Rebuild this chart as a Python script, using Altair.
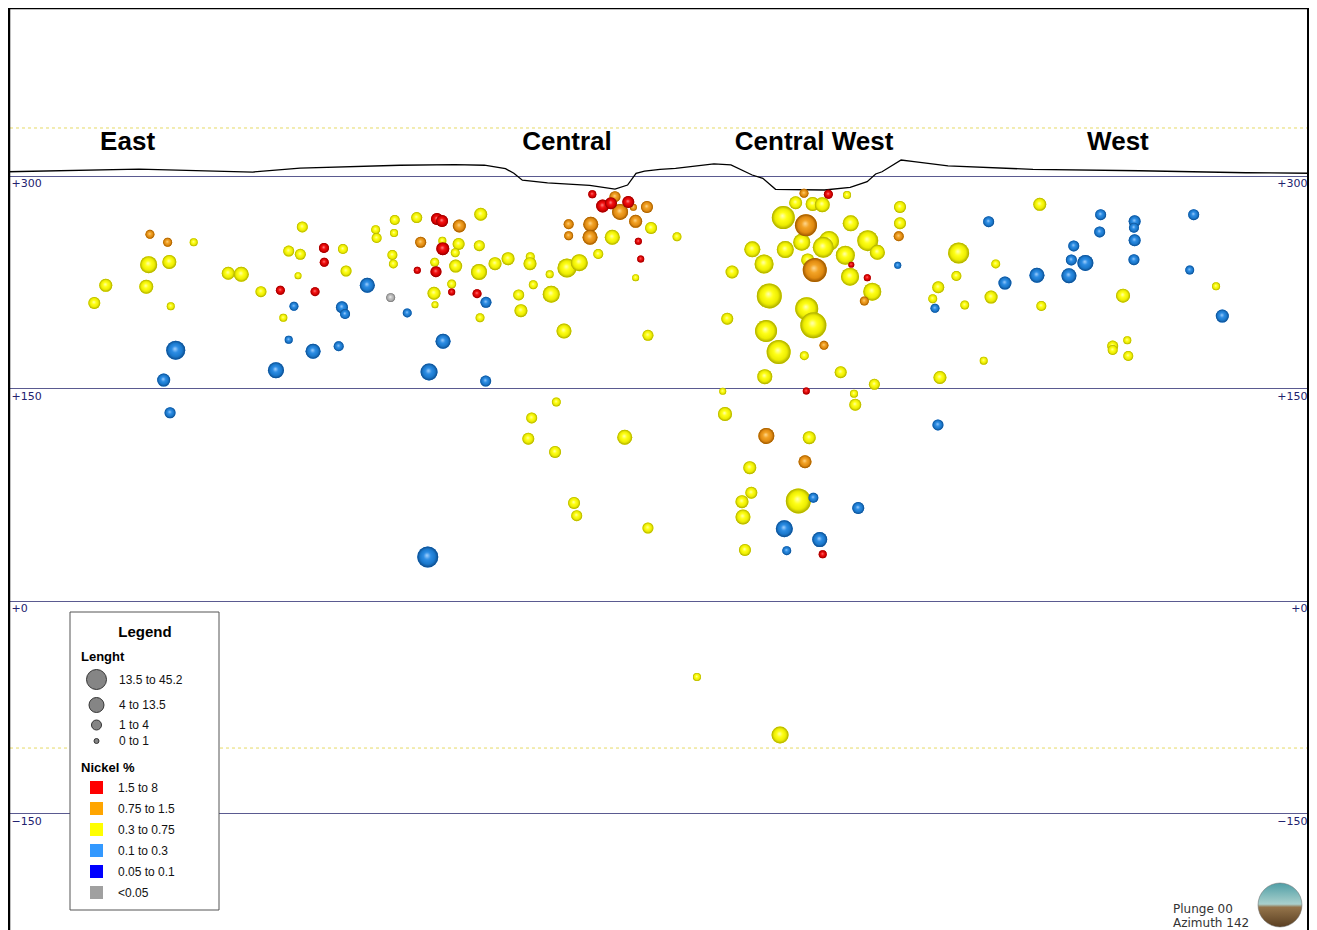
import altair as alt
import pandas as pd

# ---------------- data (distance along section m, elevation m, length m, Ni class) ----------------
east = [
    (84.7, 258.8, 3.7, "O"), (97.2, 253.2, 3.7, "O"), (115.6, 253.2, 2.6, "Y"),
    (83.8, 237.4, 17.6, "Y"), (98.4, 239.3, 11.4, "Y"), (53.5, 222.8, 9.6, "Y"),
    (82.1, 221.8, 11.4, "Y"), (45.4, 210.3, 7.9, "Y"), (99.4, 208.0, 2.6, "Y"),
    (102.9, 176.9, 22.4, "B"), (94.4, 155.9, 9.6, "B"), (98.9, 132.8, 6.4, "B"),
    (140.0, 231.3, 9.6, "Y"), (149.2, 230.6, 13.3, "Y"), (163.1, 218.3, 6.4, "Y"),
    (176.8, 219.3, 3.7, "R"), (201.3, 218.3, 3.7, "R"), (207.6, 249.2, 5.0, "R"),
    (207.8, 239.1, 3.7, "R"), (192.3, 264.0, 6.4, "Y"), (182.7, 247.0, 6.4, "Y"),
    (190.9, 244.7, 6.4, "Y"), (189.3, 229.6, 1.6, "Y"), (221.0, 248.4, 5.0, "Y"),
    (223.2, 232.9, 6.4, "Y"), (186.4, 208.0, 3.7, "B"), (178.9, 199.9, 2.6, "Y"),
    (182.7, 184.4, 2.6, "B"), (199.9, 176.2, 13.3, "B"), (218.0, 179.7, 5.0, "B"),
    (173.7, 162.8, 15.4, "B"), (220.3, 207.3, 7.9, "B"), (222.5, 202.5, 5.0, "B"),
    (238.2, 222.8, 13.3, "B"), (254.7, 214.1, 3.7, "G"), (244.1, 262.1, 3.7, "Y"),
    (244.8, 256.2, 5.0, "Y"), (257.6, 268.9, 5.0, "Y"), (257.1, 259.7, 2.6, "Y"),
    (255.9, 244.2, 5.0, "Y"), (256.6, 237.9, 3.7, "Y"), (266.4, 203.3, 3.7, "B"),
]

central = [
    (273.1, 270.6, 6.4, "Y"), (287.4, 269.6, 7.9, "R"), (291.0, 268.2, 7.9, "R"),
    (303.2, 264.7, 9.6, "O"), (318.3, 273.0, 9.6, "Y"), (275.9, 253.2, 6.4, "O"),
    (291.2, 254.3, 2.6, "Y"), (291.5, 248.7, 9.6, "R"), (302.7, 252.0, 7.9, "Y"),
    (300.3, 245.8, 3.7, "Y"), (317.3, 250.8, 6.4, "Y"), (285.8, 239.1, 3.7, "Y"),
    (273.5, 233.4, 1.6, "R"), (286.7, 232.4, 6.4, "R"), (300.6, 236.4, 9.6, "Y"),
    (317.1, 232.2, 15.4, "Y"), (328.4, 238.1, 9.6, "Y"), (337.6, 241.6, 9.6, "Y"),
    (353.3, 243.0, 3.7, "Y"), (353.1, 238.1, 9.6, "Y"), (297.8, 223.7, 3.7, "Y"),
    (297.8, 218.1, 1.6, "R"), (285.3, 217.2, 9.6, "Y"), (286.0, 209.1, 1.6, "Y"),
    (315.7, 216.9, 3.7, "R"), (322.0, 210.8, 6.4, "B"), (317.8, 199.9, 3.7, "Y"),
    (345.1, 216.0, 6.4, "Y"), (355.4, 223.2, 3.7, "Y"), (367.0, 230.6, 2.6, "Y"),
    (379.2, 235.0, 22.4, "Y"), (387.9, 238.8, 17.6, "Y"), (368.1, 216.5, 17.6, "Y"),
    (346.7, 204.9, 9.6, "Y"), (291.7, 183.3, 13.3, "B"), (281.8, 161.6, 17.6, "B"),
    (321.8, 155.2, 6.4, "B"), (377.1, 190.5, 13.3, "Y"), (436.4, 187.5, 6.4, "Y"),
    (397.1, 287.1, 2.6, "R"), (404.4, 278.8, 9.6, "R"), (410.3, 280.7, 7.9, "R"),
    (413.1, 285.4, 6.4, "O"), (416.7, 274.6, 15.4, "O"), (422.5, 281.6, 7.9, "R"),
    (426.1, 277.9, 1.6, "O"), (435.7, 278.1, 7.9, "O"), (427.7, 268.0, 9.6, "O"),
    (438.6, 263.3, 7.9, "Y"), (380.4, 265.9, 5.0, "O"), (380.4, 257.8, 3.7, "O"),
    (396.0, 265.9, 13.3, "O"), (395.5, 256.7, 13.3, "O"), (411.2, 256.7, 13.3, "Y"),
    (429.6, 253.9, 1.6, "R"), (431.3, 241.4, 1.6, "R"), (401.3, 244.9, 5.0, "Y"),
    (427.7, 228.2, 1.6, "Y"), (456.9, 257.1, 3.7, "Y"),
]

central_west = [
    (546.6, 287.8, 3.7, "O"), (563.8, 287.1, 3.7, "R"), (577.0, 286.6, 2.6, "Y"),
    (540.7, 281.1, 9.6, "Y"), (552.7, 280.2, 11.4, "Y"), (559.5, 279.7, 13.3, "Y"),
    (532.0, 270.6, 33.6, "Y"), (548.0, 265.2, 30.6, "O"), (579.6, 266.6, 15.4, "Y"),
    (510.1, 248.2, 15.4, "Y"), (533.4, 248.0, 17.6, "Y"), (545.0, 253.2, 17.6, "Y"),
    (564.3, 254.1, 25.0, "Y"), (560.2, 249.6, 27.7, "Y"), (591.6, 254.3, 27.7, "Y"),
    (598.4, 246.1, 13.3, "Y"), (575.8, 244.0, 22.4, "Y"), (549.2, 240.7, 9.6, "Y"),
    (554.2, 233.6, 36.7, "O"), (580.0, 237.4, 0.7, "R"), (579.1, 228.9, 20.0, "Y"),
    (591.3, 228.2, 1.6, "R"), (518.4, 237.9, 22.4, "Y"), (495.8, 232.2, 9.6, "Y"),
    (594.8, 218.3, 20.0, "Y"), (589.2, 211.7, 3.7, "O"), (522.1, 215.3, 40.0, "Y"),
    (548.5, 206.3, 33.6, "Y"), (553.2, 194.6, 43.4, "Y"), (492.4, 199.2, 7.9, "Y"),
    (519.8, 190.5, 30.6, "Y"), (528.7, 175.7, 36.7, "Y"), (560.7, 180.4, 3.7, "O"),
    (546.8, 173.1, 3.7, "Y"), (518.9, 158.3, 13.3, "Y"), (572.5, 161.4, 7.9, "Y"),
    (596.3, 152.9, 6.4, "Y"), (489.2, 148.0, 1.6, "Y"), (548.2, 148.2, 1.6, "R"),
    (581.9, 146.3, 2.6, "Y"), (582.8, 138.5, 7.9, "Y"), (490.8, 131.9, 11.4, "Y"),
    (614.4, 278.1, 7.9, "Y"), (614.4, 266.6, 7.9, "Y"), (613.5, 257.4, 5.0, "O"),
    (612.8, 236.9, 1.6, "B"),
]

west = [
    (655.8, 245.6, 27.7, "Y"), (654.2, 229.4, 5.0, "Y"), (641.4, 221.4, 7.9, "Y"),
    (637.5, 213.3, 3.7, "Y"), (639.1, 206.6, 3.7, "B"), (660.1, 208.9, 3.7, "Y"),
    (642.6, 157.7, 9.6, "Y"), (677.0, 267.7, 6.4, "B"), (713.1, 280.0, 9.6, "Y"),
    (682.0, 237.9, 3.7, "Y"), (678.7, 214.5, 9.6, "Y"), (688.5, 224.4, 9.6, "B"),
    (711.1, 229.9, 13.3, "B"), (714.2, 208.2, 5.0, "Y"), (733.7, 229.6, 13.3, "B"),
    (735.4, 240.7, 6.4, "B"), (737.1, 250.6, 6.4, "B"), (745.3, 238.6, 15.4, "B"),
    (756.1, 272.7, 6.4, "B"), (755.4, 260.5, 6.4, "B"), (780.1, 268.0, 7.9, "B"),
    (779.6, 263.5, 5.0, "B"), (780.1, 254.6, 7.9, "B"), (779.6, 240.9, 6.4, "B"),
    (821.8, 272.7, 6.4, "B"), (819.0, 233.6, 3.7, "B"), (837.6, 222.1, 2.6, "Y"),
    (842.0, 201.1, 9.6, "B"), (771.9, 215.5, 11.4, "Y"), (764.6, 179.9, 6.4, "Y"),
    (764.6, 177.1, 5.0, "Y"), (774.9, 184.0, 2.6, "Y"), (775.6, 172.9, 5.0, "Y"),
    (673.5, 169.6, 2.6, "Y"), (641.2, 124.2, 6.4, "B"),
]

deep = [
    (280.9, 30.9, 27.7, "B"), (371.7, 140.4, 3.7, "Y"), (354.3, 129.1, 6.4, "Y"),
    (351.9, 114.5, 7.9, "Y"), (370.8, 105.1, 7.9, "Y"), (420.0, 115.5, 13.3, "Y"),
    (384.2, 69.1, 7.9, "Y"), (386.1, 60.1, 6.4, "Y"), (436.4, 51.4, 6.4, "Y"),
    (520.0, 116.4, 15.4, "O"), (550.3, 115.2, 9.6, "Y"), (547.3, 98.2, 9.6, "O"),
    (508.3, 94.0, 9.6, "Y"), (509.4, 76.3, 7.9, "Y"), (502.8, 70.0, 9.6, "Y"),
    (503.5, 59.2, 13.3, "Y"), (542.6, 70.5, 40.0, "Y"), (553.2, 72.8, 5.0, "B"),
    (584.9, 65.5, 7.9, "B"), (532.7, 50.9, 17.6, "B"), (557.7, 43.2, 13.3, "B"),
    (504.9, 35.9, 7.9, "Y"), (534.4, 35.4, 3.7, "B"), (559.8, 32.8, 2.6, "R"),
    (471.0, -53.8, 2.6, "Y"), (529.7, -94.8, 17.6, "Y"),
]

topo_dist = [-15.5, 77.0, 157.3, 190.7, 261.3, 300.1, 320.9, 335.8, 341.7, 347.7,
             365.5, 395.3, 413.1, 422.0, 428.0, 434.0, 444.9, 455.9, 483.0, 495.0,
             510.0, 517.5, 526.5, 561.1, 579.2, 591.2, 597.2, 601.7, 615.2, 624.3,
             648.3, 708.3, 783.6, 858.7, 908.2]
topo_elev = [303.0, 304.9, 302.8, 305.6, 307.6, 308.0, 307.6, 305.2, 301.9, 297.0,
             295.1, 293.4, 290.8, 293.6, 301.9, 303.5, 304.7, 305.4, 308.5, 307.8,
             300.7, 298.4, 290.6, 290.1, 292.0, 296.0, 301.4, 303.0, 311.3, 310.1,
             307.1, 304.7, 303.7, 302.3, 301.9]

region_names = ["East", "Central", "Central West", "West"]
region_dist = [68.9, 379.2, 553.7, 768.3]
region_elev = [318.6, 318.6, 318.6, 318.6]

dash_elev = [333.9, -104.0]

nickel_classes = ["1.5 to 8", "0.75 to 1.5", "0.3 to 0.75", "0.1 to 0.3", "0.05 to 0.1", "<0.05"]
nickel_colors = ["#ff0000", "#ffa500", "#ffff00", "#3399ff", "#0000ff", "#a0a0a0"]
code_to_class = {"R": "1.5 to 8", "O": "0.75 to 1.5", "Y": "0.3 to 0.75",
                 "B": "0.1 to 0.3", "N": "0.05 to 0.1", "G": "<0.05"}

# sphere shading per class: (highlight, body, mid, rim)
shades = {
    "0.3 to 0.75": ["#ffffb8", "#ffff18", "#eded00", "#a9a900"],
    "0.1 to 0.3": ["#a8d4ff", "#2d8de4", "#1a78cc", "#0d4a88"],
    "<0.05": ["#f4f4f4", "#c4c4c4", "#ababab", "#6e6e6e"],
    "0.75 to 1.5": ["#ffd890", "#f2a326", "#e08a10", "#995400"],
    "1.5 to 8": ["#ff9090", "#f21414", "#d80000", "#8a0000"],
}

# ---------------- frames ----------------
rows = []
for zone, pts in [("East", east), ("Central", central), ("Central West", central_west),
                  ("West", west), ("Deep", deep)]:
    for d, e, l, c in pts:
        rows.append({"dist": d, "elev": e, "length": l, "nickel": code_to_class[c], "zone": zone})
holes = pd.DataFrame(rows)
topo = pd.DataFrame({"dist": topo_dist, "elev": topo_elev, "i": list(range(len(topo_dist)))})
regions = pd.DataFrame({"name": region_names, "dist": region_dist, "elev": region_elev})
dashes = pd.DataFrame({"elev": dash_elev})
one = pd.DataFrame({"k": [0]})

W, H = 1301, 922
xs = alt.Scale(domain=[-15.54, 903.23], nice=False, zero=False)
ys = alt.Scale(domain=[-232.5, 418.64], nice=False, zero=False)
size_scale = alt.Scale(domain=[0, 45], range=[25, 700])
FONT = "Liberation Sans"
label_expr = "datum.value > 0 ? '+' + datum.value : (datum.value == 0 ? '+0' : '\u2212' + abs(datum.value))"

x_axis = alt.Axis(values=[0, 150, 300, 450, 600, 750, 900], grid=True, gridColor="#c9c9c9",
                  gridDash=[1, 2], gridWidth=1, labels=False, ticks=False, domain=False, title=None)
y_left = alt.Axis(orient="left", values=[300, 150, 0, -150], grid=True, gridColor="#5a5a90",
                  gridWidth=1, ticks=False, domain=False, title=None, labelAlign="left",
                  labelBaseline="top", labelPadding=-3, labelOffset=2, labelFont="DejaVu Sans",
                  labelFontSize=11, labelColor="#22226e", labelExpr=label_expr)
y_right = alt.Axis(orient="right", values=[300, 150, 0, -150], grid=False, ticks=False,
                   domain=False, title=None, labelAlign="right", labelBaseline="top",
                   labelPadding=-2, labelOffset=2, labelFont="DejaVu Sans", labelFontSize=11,
                   labelColor="#22226e", labelExpr=label_expr)

dash_layer = alt.Chart(dashes).mark_rule(color="#e6da66", strokeDash=[3, 3], strokeWidth=1).encode(
    y=alt.Y("elev:Q", scale=ys, axis=y_right))

topo_layer = alt.Chart(topo).mark_line(color="black", strokeWidth=1.3).encode(
    x=alt.X("dist:Q", scale=xs, axis=None), y=alt.Y("elev:Q", scale=ys, axis=None),
    order=alt.Order("i:Q"))

region_layer = alt.Chart(regions).mark_text(font=FONT, fontSize=26, fontWeight="bold",
                                            color="black", align="center", baseline="alphabetic").encode(
    x=alt.X("dist:Q", scale=xs, axis=None), y=alt.Y("elev:Q", scale=ys, axis=None), text="name:N")

size_legend = alt.Legend(
    title="Lenght", orient="none", legendX=73, legendY=643, values=[25, 13.3, 5, 0],
    labelExpr="datum.value >= 20 ? '13.5 to 45.2' : datum.value >= 10 ? '4 to 13.5' : datum.value >= 3 ? '1 to 4' : '0 to 1'",
    symbolFillColor="#858585", symbolStrokeColor="#333333", symbolStrokeWidth=1, symbolOpacity=1,
    titleFont=FONT, titleFontSize=13, titleFontWeight="bold", titleColor="black",
    labelFont=FONT, labelFontSize=12, labelColor="#111111", rowPadding=3, labelOffset=12,
    symbolOffset=5, padding=0, titlePadding=5, direction="vertical")
color_legend = alt.Legend(
    title="Nickel %", orient="none", legendX=73, legendY=754, symbolType="square", symbolSize=169,
    symbolStrokeWidth=0, symbolOpacity=1, titleFont=FONT, titleFontSize=13, titleFontWeight="bold",
    titleColor="black", labelFont=FONT, labelFontSize=12, labelColor="#111111", rowPadding=8,
    labelOffset=15, symbolOffset=9, padding=0, titlePadding=6, direction="vertical")

base_layer = alt.Chart(holes).mark_circle(opacity=1).encode(
    x=alt.X("dist:Q", scale=xs, axis=x_axis),
    y=alt.Y("elev:Q", scale=ys, axis=y_left),
    size=alt.Size("length:Q", scale=size_scale, legend=size_legend),
    color=alt.Color("nickel:N", scale=alt.Scale(domain=nickel_classes, range=nickel_colors),
                    legend=color_legend))

sphere_layers = []
for cls in ["0.3 to 0.75", "0.1 to 0.3", "<0.05", "0.75 to 1.5", "1.5 to 8"]:
    s = shades[cls]
    grad = alt.RadialGradient(
        gradient="radial", x1=0.46, y1=0.42, r1=0, x2=0.5, y2=0.5, r2=0.5,
        stops=[alt.GradientStop(color=s[0], offset=0), alt.GradientStop(color=s[1], offset=0.35),
               alt.GradientStop(color=s[2], offset=0.72), alt.GradientStop(color=s[3], offset=1)])
    sphere_layers.append(
        alt.Chart(holes).transform_filter(alt.datum.nickel == cls)
        .mark_circle(opacity=1, fill=grad)
        .encode(x=alt.X("dist:Q", scale=xs, axis=None), y=alt.Y("elev:Q", scale=ys, axis=None),
                size=alt.Size("length:Q", scale=size_scale, legend=None)))

legend_box = alt.Chart(one).mark_rect(fill="white", stroke="#555555", strokeWidth=1).encode(
    x=alt.value(62), x2=alt.value(211), y=alt.value(604), y2=alt.value(902))
legend_title = alt.Chart(one).mark_text(text="Legend", font=FONT, fontSize=15, fontWeight="bold",
                                        color="black", align="center", baseline="alphabetic").encode(
    x=alt.value(137), y=alt.value(629))

plunge = alt.Chart(one).mark_text(text="Plunge 00", font="DejaVu Sans", fontSize=12, color="#333333",
                                  align="left", baseline="alphabetic").encode(x=alt.value(1165), y=alt.value(905))
azimuth = alt.Chart(one).mark_text(text="Azimuth 142", font="DejaVu Sans", fontSize=12, color="#333333",
                                   align="left", baseline="alphabetic").encode(x=alt.value(1165), y=alt.value(919))
logo_grad = alt.LinearGradient(gradient="linear", x1=0, y1=0, x2=0, y2=1, stops=[
    alt.GradientStop(color="#4f9ea6", offset=0), alt.GradientStop(color="#a9d0cc", offset=0.48),
    alt.GradientStop(color="#94744a", offset=0.55), alt.GradientStop(color="#5a3f22", offset=1)])
logo = alt.Chart(one).mark_circle(opacity=1, fill=logo_grad, stroke="#666666", strokeWidth=0.5).encode(
    x=alt.value(1272), y=alt.value(897), size=alt.value(1936))

border_left = alt.Chart(one).mark_rule(color="black", strokeWidth=2.5).encode(
    x=alt.value(1), y=alt.value(0), y2=alt.value(H))
border_top = alt.Chart(one).mark_rule(color="black", strokeWidth=1.5).encode(
    y=alt.value(0.5), x=alt.value(0), x2=alt.value(W))
border_right = alt.Chart(one).mark_rule(color="black", strokeWidth=2).encode(
    x=alt.value(W - 1), y=alt.value(0), y2=alt.value(H))

chart = alt.layer(
    dash_layer, topo_layer, region_layer, base_layer, *sphere_layers,
    legend_box, legend_title, plunge, azimuth, logo, border_left, border_top, border_right
).resolve_axis(y="independent").properties(
    width=W, height=H, padding=0, autosize=alt.AutoSizeParams(type="none"), background="white"
).configure_view(stroke=None)

chart.save("out.html", embed_options={"renderer": "svg", "actions": False})
